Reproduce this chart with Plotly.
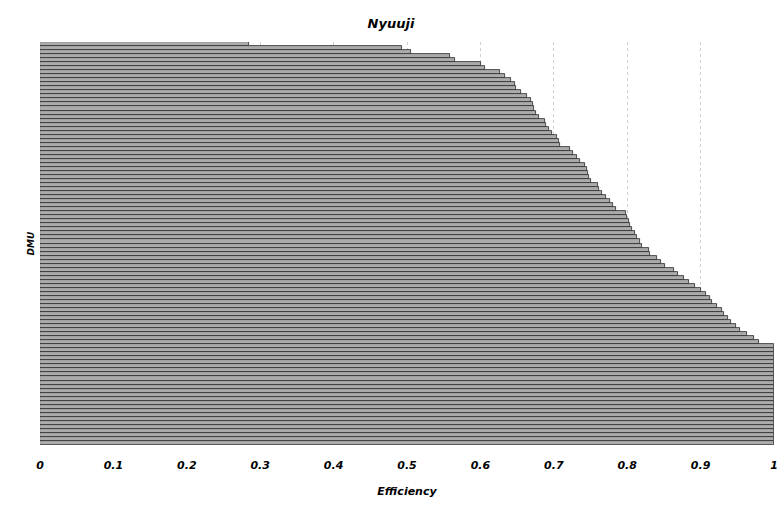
import plotly.graph_objects as go

# Efficiency scores per DMU (top of chart to bottom)
efficiency = [
    0.285, 0.493, 0.506, 0.559, 0.566, 0.601, 0.606, 0.627, 0.634, 0.642,
    0.647, 0.648, 0.655, 0.663, 0.669, 0.671, 0.673, 0.676, 0.680, 0.688,
    0.690, 0.693, 0.697, 0.704, 0.707, 0.709, 0.722, 0.726, 0.731, 0.736,
    0.742, 0.745, 0.746, 0.748, 0.751, 0.760, 0.762, 0.765, 0.771, 0.776,
    0.780, 0.785, 0.798, 0.800, 0.802, 0.804, 0.806, 0.810, 0.813, 0.817,
    0.820, 0.830, 0.831, 0.840, 0.846, 0.852, 0.864, 0.869, 0.877, 0.884,
    0.893, 0.901, 0.908, 0.913, 0.916, 0.922, 0.929, 0.932, 0.937, 0.942,
    0.948, 0.954, 0.963, 0.973, 0.980, 1.0, 1.0, 1.0, 1.0, 1.0,
    1.0, 1.0, 1.0, 1.0, 1.0, 1.0, 1.0, 1.0, 1.0, 1.0,
    1.0, 1.0, 1.0, 1.0, 1.0, 1.0, 1.0, 1.0, 1.0, 1.0,
]
dmu = [f"DMU{i + 1}" for i in range(len(efficiency))]
x_ticks = [0, 0.1, 0.2, 0.3, 0.4, 0.5, 0.6, 0.7, 0.8, 0.9, 1]
x_tick_text = ["0", "0.1", "0.2", "0.3", "0.4", "0.5", "0.6", "0.7", "0.8", "0.9", "1"]

FONT = "DejaVu Sans"

fig = go.Figure(
    go.Bar(
        x=efficiency,
        y=dmu,
        orientation="h",
        marker=dict(color="#ababab", line=dict(color="#2a2a2a", width=0.8)),
        hoverinfo="x+y",
    )
)

fig.update_layout(
    width=782,
    height=512,
    margin=dict(l=40, r=4, t=42, b=67),
    paper_bgcolor="white",
    plot_bgcolor="white",
    bargap=0,
    showlegend=False,
    title=dict(
        text="Nyuuji",
        x=0.5,
        xanchor="center",
        y=0.955,
        yanchor="middle",
        font=dict(family=FONT, size=13, color="black", weight="bold", style="italic"),
    ),
    xaxis=dict(
        range=[0, 1],
        tickvals=x_ticks,
        ticktext=x_tick_text,
        showgrid=True,
        gridcolor="#cfcfcf",
        griddash="dot",
        gridwidth=1,
        zeroline=False,
        showline=False,
        ticks="",
        ticklabelstandoff=12,
        tickfont=dict(family=FONT, size=11, color="black", weight="bold", style="italic"),
        title=dict(
            text="Efficiency",
            standoff=16,
            font=dict(family=FONT, size=11, color="black", weight="bold", style="italic"),
        ),
    ),
    yaxis=dict(
        categoryorder="array",
        categoryarray=dmu,
        autorange="reversed",
        showticklabels=False,
        showgrid=False,
        zeroline=False,
        showline=False,
        ticks="",
        title=dict(
            text="DMU",
            standoff=2,
            font=dict(family=FONT, size=9, color="black", weight="bold", style="italic"),
        ),
    ),
)

fig.write_html("out.html")
